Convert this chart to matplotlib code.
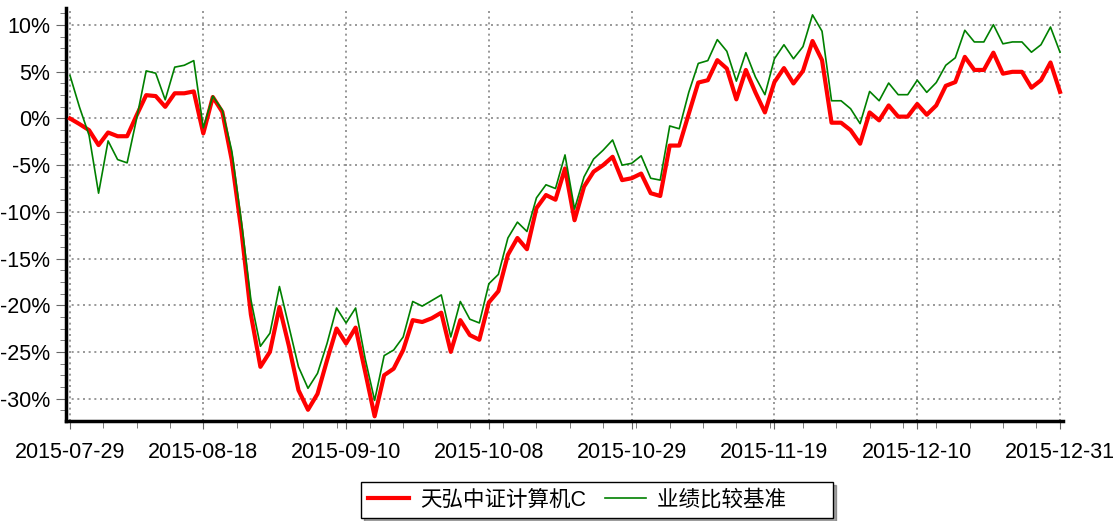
import pandas as pd
import matplotlib
matplotlib.use("Agg")
import matplotlib.pyplot as plt
from matplotlib.ticker import FuncFormatter, MultipleLocator, AutoMinorLocator

plt.rcParams["font.family"] = ["Liberation Sans", "Noto Sans CJK SC", "DejaVu Sans"]

# dias de negociação (feriados chineses retirados)
feriados = ["2015-09-03", "2015-09-04", "2015-10-01", "2015-10-02",
            "2015-10-05", "2015-10-06", "2015-10-07"]
datas = [d.strftime("%Y-%m-%d") for d in pd.bdate_range("2015-07-29", "2015-12-31")
         if d.strftime("%Y-%m-%d") not in feriados]

rotulos_x = ["2015-07-29", "2015-08-18", "2015-09-10", "2015-10-08",
             "2015-10-29", "2015-11-19", "2015-12-10", "2015-12-31"]

nome_fundo = "天弘中证计算机C"
nome_base = "业绩比较基准"

# retorno acumulado (%)
fundo = [
    0.0, -0.6, -1.25, -2.85, -1.5, -1.9, -1.9, 0.35, 2.5, 2.4,
    1.25, 2.7, 2.7, 2.9, -1.6, 2.3, 0.7, -4.5, -12.0, -21.0,
    -26.6, -25.0, -20.2, -24.4, -29.1, -31.2, -29.5, -25.9, -22.5, -24.1,
    -22.4, -27.1, -31.9, -27.5, -26.8, -24.8, -21.6, -21.8, -21.4, -20.8,
    -25.0, -21.6, -23.2, -23.7, -19.7, -18.5, -14.6, -12.8, -14.0, -9.6,
    -8.2, -8.7, -5.35, -10.9, -7.3, -5.7, -5.0, -4.1, -6.6, -6.4,
    -5.9, -8.0, -8.3, -2.9, -2.9, 0.5, 3.85, 4.1, 6.25, 5.35,
    2.05, 5.2, 2.8, 0.65, 3.9, 5.4, 3.75, 5.1, 8.3, 6.25,
    -0.45, -0.45, -1.25, -2.7, 0.65, -0.2, 1.4, 0.2, 0.2, 1.55,
    0.4, 1.4, 3.5, 3.9, 6.6, 5.2, 5.2, 7.05, 4.8, 5.0,
    5.0, 3.3, 4.1, 6.0, 2.85,
]
base = [
    4.6, 1.2, -1.8, -8.0, -2.4, -4.4, -4.75, 0.0, 5.1, 4.85,
    2.0, 5.5, 5.7, 6.2, -1.0, 2.4, 0.9, -3.5, -11.0, -19.4,
    -24.4, -23.0, -18.0, -22.3, -26.6, -28.9, -27.3, -24.1, -20.3, -21.9,
    -20.3, -25.7, -30.2, -25.4, -24.8, -23.4, -19.6, -20.1, -19.5, -18.9,
    -23.4, -19.6, -21.5, -21.9, -17.7, -16.7, -12.8, -11.1, -12.1, -8.5,
    -7.1, -7.5, -3.9, -9.7, -6.25, -4.35, -3.4, -2.3, -5.0, -4.8,
    -4.0, -6.4, -6.6, -0.8, -1.1, 2.8, 5.9, 6.2, 8.45, 7.2,
    4.0, 7.05, 4.45, 2.55, 6.4, 7.9, 6.4, 7.7, 11.1, 9.35,
    1.9, 1.9, 1.05, -0.55, 2.9, 1.9, 3.8, 2.55, 2.55, 4.1,
    2.8, 3.85, 5.7, 6.5, 9.45, 8.2, 8.2, 10.05, 8.0, 8.2,
    8.2, 7.1, 7.9, 9.8, 7.1,
]


def main():
    x = list(range(len(datas)))
    fig = plt.figure(figsize=(11.19, 5.21), dpi=100)
    ax = fig.add_axes([0.059, 0.192, 0.891, 0.792])

    ax.plot(x, fundo, color="#ff0000", lw=3.0, label=nome_fundo, zorder=3)
    # espaço extra no fim do rótulo: a caixa da legenda original é mais larga à direita
    ax.plot(x, base, color="#008000", lw=1.2, label=nome_base + "\u3000   ", zorder=4)

    ax.set_xlim(-0.42, len(datas) - 1 + 0.32)
    ax.set_ylim(-32.4, 11.8)

    ax.set_xticks([datas.index(d) for d in rotulos_x])
    ax.set_xticklabels(rotulos_x)
    ax.xaxis.set_minor_locator(AutoMinorLocator(4))
    ax.yaxis.set_major_locator(MultipleLocator(5))
    ax.yaxis.set_minor_locator(AutoMinorLocator(4))
    ax.yaxis.set_major_formatter(FuncFormatter(lambda v, p: f"{v:.0f}%"))

    ax.tick_params(axis="both", which="both", direction="out", color="#666666",
                   labelsize=15.5, labelcolor="black")
    ax.tick_params(axis="x", which="major", length=6, pad=9)
    ax.tick_params(axis="x", which="minor", length=5)
    ax.tick_params(axis="y", which="major", length=7, pad=4.5)
    ax.tick_params(axis="y", which="minor", length=4)

    ax.grid(True, which="major", linestyle=(0, (1.2, 2.2)), color="#888888", lw=1.2)
    for lado in ["top", "right"]:
        ax.spines[lado].set_visible(False)
    for lado in ["left", "bottom"]:
        ax.spines[lado].set_linewidth(2.5)
        ax.spines[lado].set_color("black")

    fig.legend(loc="center", bbox_to_anchor=(597 / 1119, 1 - 500 / 521), ncol=2,
               fontsize=15.5, frameon=True, fancybox=False, shadow=True,
               edgecolor="black", framealpha=1, handlelength=1.9,
               handletextpad=0.5, columnspacing=0.9, borderpad=0.35)

    fig.savefig("out.png", dpi=100)


if __name__ == "__main__":
    main()
